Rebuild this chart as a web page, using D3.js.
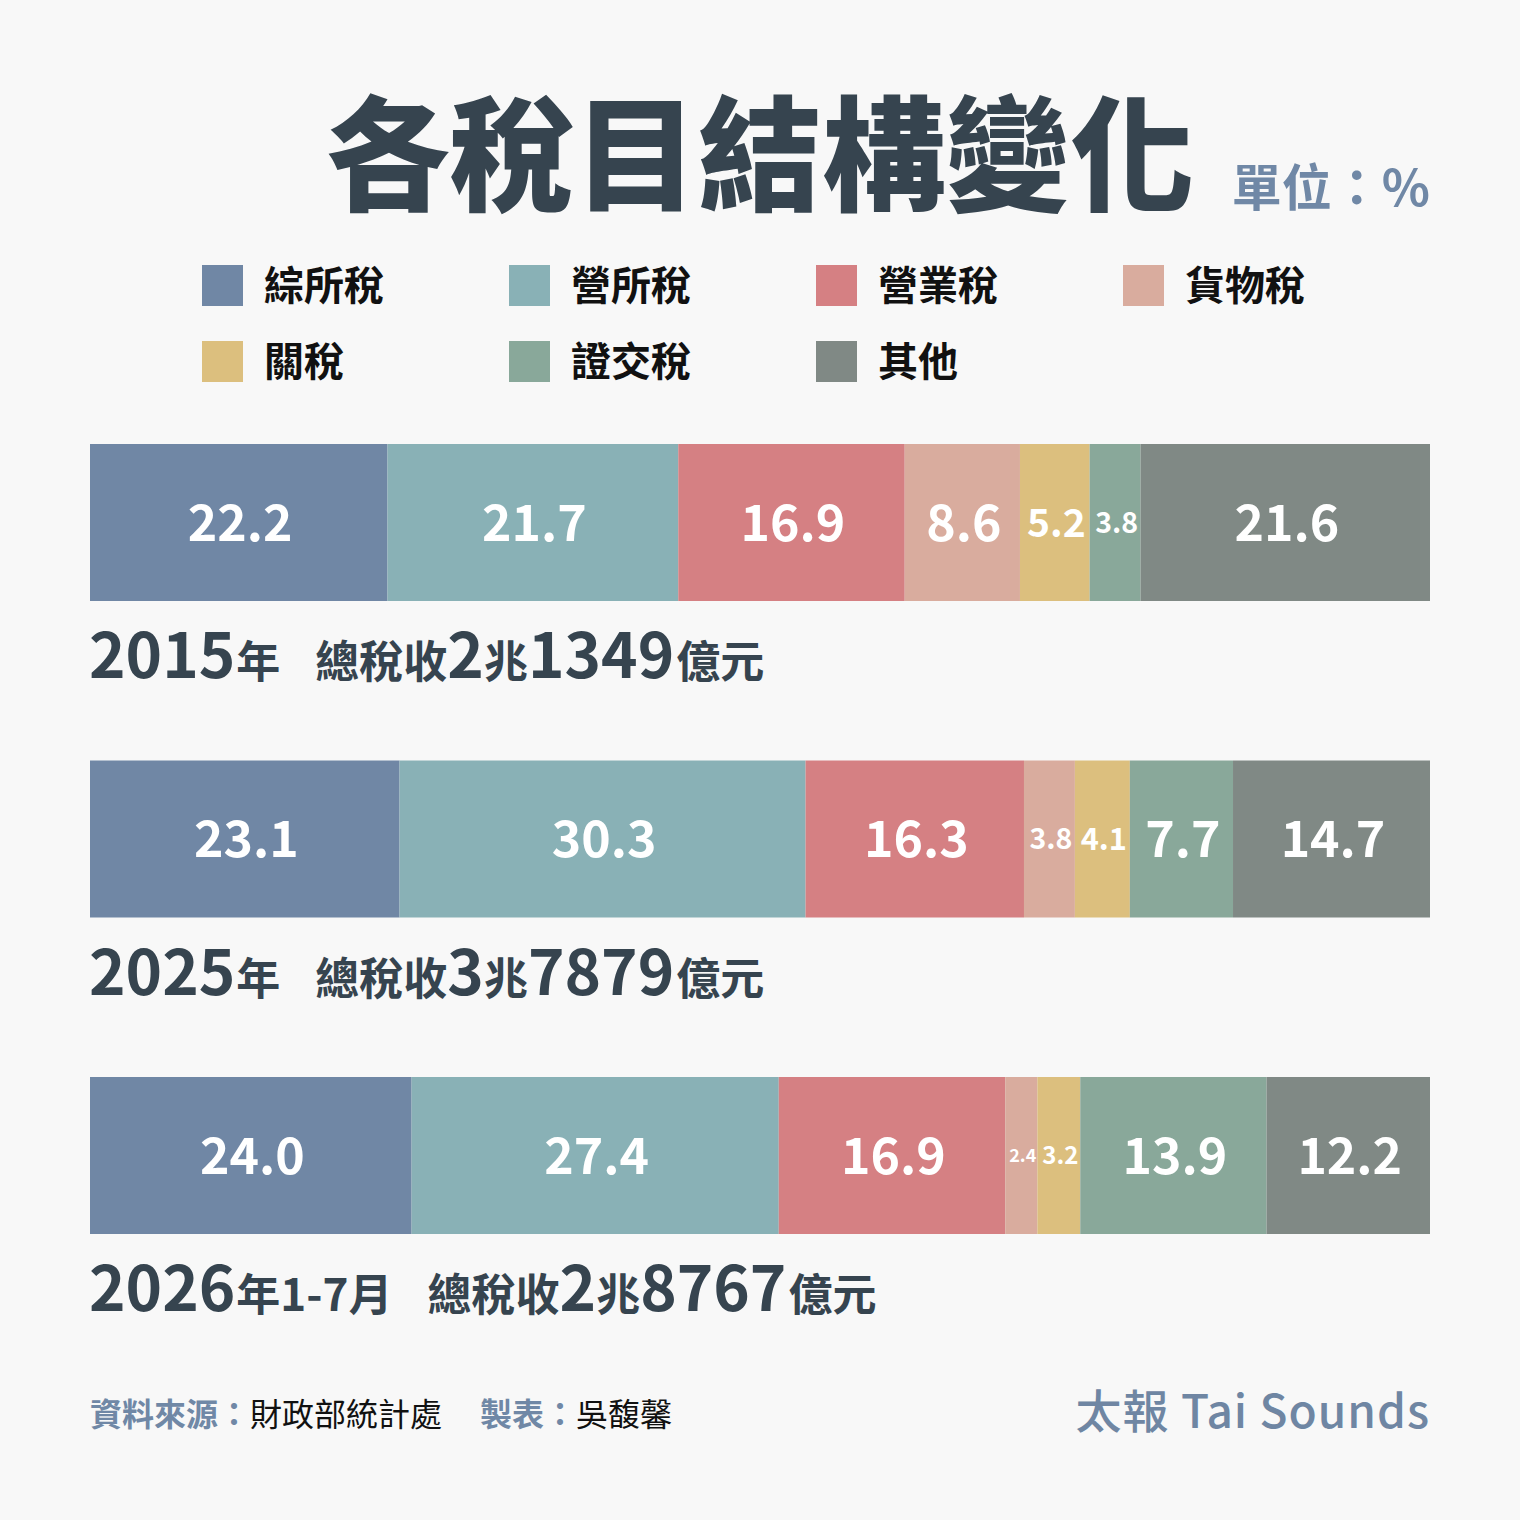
<!DOCTYPE html>
<html><head><meta charset="utf-8">
<script src="https://cdn.jsdelivr.net/npm/d3@7"></script>
<style>
html,body{margin:0;padding:0;background:#f8f8f8;}
svg{display:block;}
text{font-family:"Noto Sans CJK TC","Noto Sans CJK SC",sans-serif;}
</style></head>
<body>
<svg id="chart" width="1520" height="1520"></svg>
<script>
// ---- data ----
const categories = ["綜所稅","營所稅","營業稅","貨物稅","關稅","證交稅","其他"];
const colors = ["#7087a5","#89b1b6","#d58083","#d9ac9e","#dcbf7e","#89a89a","#808985"];
const values2015 = [22.2, 21.7, 16.9, 8.6, 5.2, 3.8, 21.6];
const values2025 = [23.1, 30.3, 16.3, 3.8, 4.1, 7.7, 14.7];
const values2026 = [24.0, 27.4, 16.9, 2.4, 3.2, 13.9, 12.2];
const yearLabels = ["2015", "2025", "2026"];
const yearSuffix = ["年", "年", "年1-7月"];
const totalTrillion = ["2", "3", "2"];
const totalHundredMillion = ["1349", "7879", "8767"];

const series = [values2015, values2025, values2026];

const svg = d3.select("#chart");
const dark = "#36444f";
const blue = "#7088a6";

svg.append("rect").attr("width",1520).attr("height",1520).attr("fill","#f8f8f8");

// Title
svg.append("text").attr("x",760).attr("y",201).attr("text-anchor","middle")
  .attr("font-size",124).attr("font-weight",900).attr("fill",dark)
  .text("各稅目結構變化");
svg.append("text").attr("x",1430).attr("y",206).attr("text-anchor","end")
  .attr("font-size",50).attr("font-weight",700).attr("fill",blue)
  .text("單位：%");

// Legend
const legend = svg.append("g");
categories.forEach((c,i)=>{
  const col = i % 4, row = Math.floor(i/4);
  const lx = 202 + col*307, ly = 265 + row*76;
  legend.append("rect").attr("x",lx).attr("y",ly).attr("width",41).attr("height",41).attr("fill",colors[i]);
  legend.append("text").attr("x",lx+62).attr("y",ly+35).attr("font-size",40).attr("font-weight",700)
    .attr("fill","#111").text(c);
});

// Bars
const x = d3.scaleLinear().domain([0,100]).range([90,1430]);
const barH = 157;
const rowStep = 316.5;

series.forEach((vals, si)=>{
  const y0 = 444 + si*rowStep;
  let cum = 0;
  const g = svg.append("g");
  vals.forEach((v,i)=>{
    const x0 = x(cum), x1 = x(cum+v);
    cum += v;
    g.append("rect").attr("x",x0).attr("y",y0).attr("width",x1-x0).attr("height",barH).attr("fill",colors[i]);
    const w = x1-x0;
    const fs = Math.min(50, w*0.56);
    g.append("text").attr("x",(x0+x1)/2+1.5).attr("y",y0+barH/2+fs*0.36)
      .attr("text-anchor","middle").attr("font-size",fs).attr("font-weight",700)
      .attr("fill","#fff").text(v.toFixed(1));
  });
  // year label
  const base = y0 + barH + 77;
  const t = svg.append("text").attr("x",89).attr("y",base).attr("fill",dark).attr("font-weight",700);
  t.append("tspan").attr("font-size",62).text(yearLabels[si]);
  t.append("tspan").attr("font-size",44).attr("dx",1).text(yearSuffix[si]);
  t.append("tspan").attr("font-size",44).attr("dx",35).text("總稅收");
  t.append("tspan").attr("font-size",62).text(totalTrillion[si]);
  t.append("tspan").attr("font-size",44).text("兆");
  t.append("tspan").attr("font-size",62).text(totalHundredMillion[si]);
  t.append("tspan").attr("font-size",44).attr("dx",2).text("億元");
});

// Footer
const f = svg.append("text").attr("x",90).attr("y",1426).attr("font-size",32);
f.append("tspan").attr("font-weight",700).attr("fill",blue).text("資料來源：");
f.append("tspan").attr("font-weight",400).attr("fill","#111").text("財政部統計處");
f.append("tspan").attr("font-weight",700).attr("fill",blue).attr("dx",38).text("製表：");
f.append("tspan").attr("font-weight",400).attr("fill","#111").text("吳馥馨");

svg.append("text").attr("x",1430).attr("y",1428).attr("text-anchor","end")
  .attr("font-size",46).attr("font-weight",500).attr("fill","#6f86a3")
  .attr("letter-spacing",1).text("太報 Tai Sounds");
</script>
</body></html>
